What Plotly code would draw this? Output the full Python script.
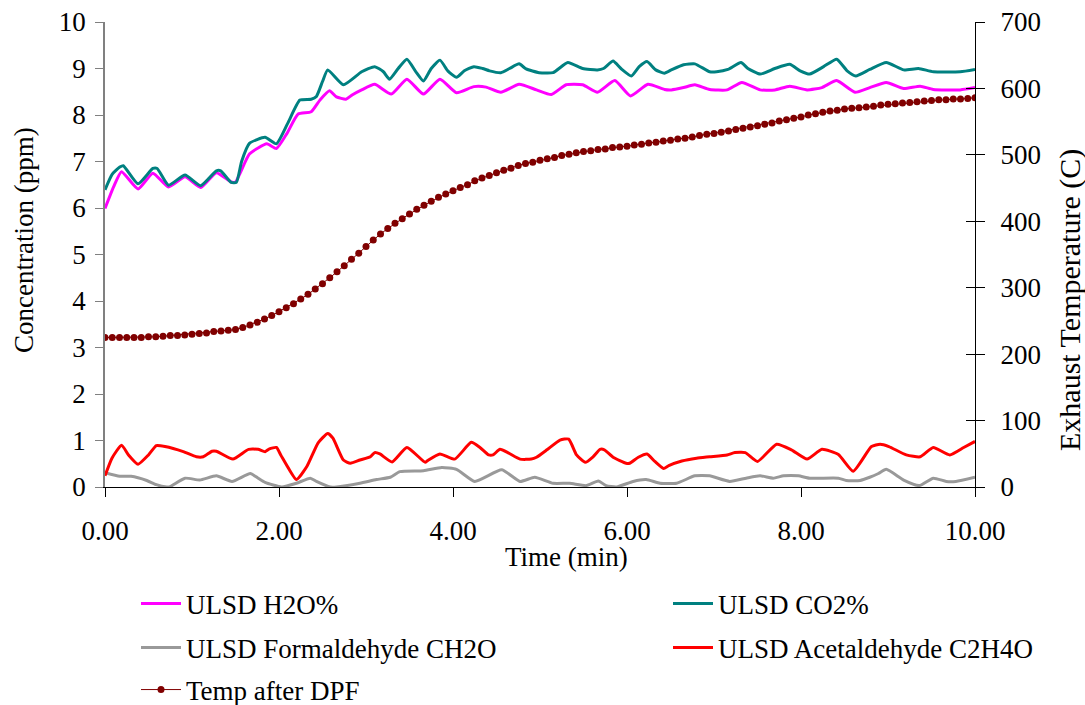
import plotly.graph_objects as go

# ---------------- data ----------------
co2_t = [0, 0.08, 0.17, 0.21, 0.38, 0.55, 0.60, 0.73, 0.92, 1.10, 1.28, 1.33, 1.45, 1.51, 1.57,
         1.66, 1.84, 1.97, 2.10, 2.24, 2.37, 2.43, 2.50, 2.56, 2.74, 2.95, 3.10, 3.20, 3.27, 3.37,
         3.47, 3.58, 3.66, 3.75, 3.85, 3.94, 4.04, 4.13, 4.24, 4.34, 4.42, 4.55, 4.65, 4.76, 4.84,
         4.99, 5.15, 5.32, 5.49, 5.66, 5.73, 5.84, 5.93, 6.05, 6.14, 6.23, 6.33, 6.43, 6.51, 6.65,
         6.78, 6.95, 7.03, 7.16, 7.31, 7.39, 7.53, 7.70, 7.87, 7.99, 8.10, 8.26, 8.41, 8.53, 8.63,
         8.79, 8.98, 9.18, 9.35, 9.52, 9.83, 10.0]
co2_v = [6.39, 6.72, 6.88, 6.91, 6.52, 6.85, 6.85, 6.49, 6.71, 6.48, 6.80, 6.80, 6.55, 6.55, 7.00,
         7.39, 7.52, 7.38, 7.82, 8.32, 8.34, 8.40, 8.72, 8.97, 8.65, 8.93, 9.04, 8.93, 8.77, 9.00,
         9.20, 8.91, 8.73, 9.00, 9.18, 8.95, 8.81, 8.95, 9.04, 9.00, 8.95, 8.91, 9.00, 9.10, 8.99,
         8.91, 8.91, 9.13, 9.00, 8.97, 9.00, 9.16, 9.00, 8.84, 9.04, 9.15, 8.97, 8.90, 8.97, 9.08,
         9.10, 8.93, 8.93, 8.98, 9.13, 9.00, 8.88, 9.00, 9.09, 8.95, 8.88, 9.04, 9.20, 8.95, 8.84,
         8.98, 9.13, 8.97, 9.00, 8.93, 8.93, 8.98]

h2o_t = [0, 0.10, 0.19, 0.38, 0.55, 0.73, 0.92, 1.10, 1.28, 1.45, 1.50, 1.66, 1.86, 1.97, 2.09,
         2.22, 2.37, 2.47, 2.58, 2.66, 2.77, 2.84, 2.95, 3.10, 3.29, 3.47, 3.66, 3.85, 4.04, 4.24,
         4.38, 4.55, 4.76, 4.96, 5.13, 5.30, 5.49, 5.66, 5.86, 6.04, 6.24, 6.43, 6.51, 6.65, 6.78,
         6.95, 7.15, 7.32, 7.53, 7.70, 7.87, 8.07, 8.24, 8.41, 8.62, 8.79, 8.98, 9.18, 9.37, 9.52,
         9.83, 10.0]
h2o_v = [5.99, 6.46, 6.78, 6.41, 6.75, 6.45, 6.67, 6.44, 6.76, 6.56, 6.56, 7.16, 7.38, 7.28, 7.60,
         8.02, 8.07, 8.32, 8.52, 8.39, 8.34, 8.43, 8.54, 8.66, 8.45, 8.77, 8.45, 8.77, 8.48, 8.61,
         8.60, 8.49, 8.66, 8.54, 8.44, 8.65, 8.65, 8.49, 8.74, 8.41, 8.66, 8.55, 8.54, 8.59, 8.65,
         8.55, 8.54, 8.70, 8.54, 8.54, 8.62, 8.54, 8.59, 8.74, 8.49, 8.59, 8.70, 8.57, 8.62, 8.55,
         8.54, 8.59]

form_t = [0.0, 0.17, 0.30, 0.48, 0.59, 0.71, 0.74, 0.92, 1.09, 1.28, 1.46, 1.67, 1.76, 1.84, 2.03,
          2.20, 2.36, 2.43, 2.59, 2.66, 2.93, 3.12, 3.28, 3.39, 3.66, 3.87, 4.04, 4.25, 4.56, 4.77,
          4.94, 5.15, 5.34, 5.53, 5.67, 5.76, 5.88, 6.07, 6.22, 6.38, 6.57, 6.78, 6.95, 7.18, 7.37,
          7.53, 7.68, 7.80, 7.97, 8.10, 8.43, 8.52, 8.68, 8.79, 8.89, 8.98, 9.18, 9.36, 9.52, 9.67,
          9.78, 10.0]
form_v = [0.31, 0.23, 0.23, 0.14, 0.05, 0.00, 0.00, 0.19, 0.15, 0.24, 0.12, 0.29, 0.19, 0.10, 0.00,
          0.08, 0.19, 0.12, 0.00, 0.00, 0.08, 0.16, 0.21, 0.33, 0.35, 0.42, 0.38, 0.12, 0.37, 0.12,
          0.21, 0.08, 0.08, 0.03, 0.13, 0.03, 0.00, 0.12, 0.16, 0.08, 0.08, 0.24, 0.24, 0.12, 0.19,
          0.24, 0.19, 0.24, 0.24, 0.19, 0.19, 0.14, 0.14, 0.21, 0.29, 0.38, 0.15, 0.03, 0.19, 0.12,
          0.12, 0.21]

acet_t = [0, 0.08, 0.19, 0.27, 0.38, 0.50, 0.59, 0.69, 0.90, 1.05, 1.13, 1.23, 1.28, 1.47, 1.65,
          1.76, 1.84, 1.89, 1.97, 2.02, 2.11, 2.20, 2.32, 2.45, 2.56, 2.62, 2.74, 2.82, 2.93, 3.05,
          3.10, 3.16, 3.30, 3.47, 3.68, 3.71, 3.85, 4.02, 4.21, 4.31, 4.41, 4.46, 4.54, 4.64, 4.77,
          4.90, 4.96, 5.08, 5.23, 5.33, 5.42, 5.52, 5.61, 5.69, 5.74, 5.84, 5.99, 6.03, 6.13, 6.23,
          6.32, 6.42, 6.48, 6.63, 6.80, 6.95, 7.15, 7.24, 7.36, 7.50, 7.72, 7.89, 8.07, 8.24, 8.43,
          8.60, 8.81, 8.91, 9.01, 9.21, 9.37, 9.52, 9.71, 9.87, 10.0]
acet_v = [0.24, 0.62, 0.90, 0.69, 0.49, 0.69, 0.89, 0.87, 0.76, 0.65, 0.65, 0.77, 0.77, 0.60, 0.81,
          0.81, 0.76, 0.82, 0.85, 0.69, 0.40, 0.16, 0.44, 0.95, 1.15, 1.05, 0.58, 0.51, 0.58, 0.65,
          0.74, 0.71, 0.54, 0.85, 0.53, 0.57, 0.71, 0.60, 0.96, 0.85, 0.69, 0.69, 0.81, 0.73, 0.60,
          0.60, 0.64, 0.80, 1.01, 1.03, 0.69, 0.53, 0.65, 0.81, 0.80, 0.64, 0.51, 0.51, 0.64, 0.71,
          0.55, 0.40, 0.46, 0.56, 0.62, 0.65, 0.69, 0.74, 0.74, 0.55, 0.92, 0.80, 0.60, 0.81, 0.70,
          0.34, 0.87, 0.92, 0.87, 0.69, 0.65, 0.85, 0.69, 0.85, 0.98]

# temperature after DPF, one reading every 5 s (121 points, 0 .. 10 min)
temp_c = [225, 225, 225, 225, 225, 225, 226, 226, 227, 228, 228, 229,
          230, 231, 232, 234, 235, 236, 237, 240, 244, 248, 253, 258,
          264, 270, 276, 283, 290, 298, 306, 315, 324, 333, 343, 352,
          362, 372, 381, 389, 397, 404, 411, 418, 424, 430, 436, 441,
          446, 451, 455, 461, 465, 469, 473, 477, 480, 484, 487, 489,
          492, 494, 496, 499, 501, 503, 505, 506, 508, 509, 511, 512,
          513, 515, 516, 518, 519, 521, 522, 524, 525, 527, 529, 531,
          532, 534, 536, 538, 540, 542, 544, 546, 548, 551, 553, 555,
          557, 560, 562, 564, 566, 567, 569, 570, 571, 572, 573, 575,
          576, 577, 578, 579, 580, 581, 582, 583, 583, 584, 584, 585,
          586]
temp_t = [i * 5 / 60 for i in range(len(temp_c))]

x_ticks = [0, 2, 4, 6, 8, 10]

# ---------------- figure ----------------
FONT = "Liberation Serif"
fig = go.Figure()

fig.add_trace(go.Scatter(x=h2o_t, y=h2o_v, name="ULSD H2O%", mode="lines",
                         line=dict(color="#FF00FF", width=3, shape="spline", smoothing=0.5),
                         legend="legend"))
fig.add_trace(go.Scatter(x=co2_t, y=co2_v, name="ULSD CO2%", mode="lines",
                         line=dict(color="#008080", width=3, shape="spline", smoothing=0.5),
                         legend="legend2"))
fig.add_trace(go.Scatter(x=form_t, y=form_v, name="ULSD Formaldehyde CH2O", mode="lines",
                         line=dict(color="#999999", width=3, shape="spline", smoothing=0.5),
                         legend="legend3"))
fig.add_trace(go.Scatter(x=acet_t, y=acet_v, name="ULSD Acetaldehyde C2H4O", mode="lines",
                         line=dict(color="#FF0000", width=3, shape="spline", smoothing=0.5),
                         legend="legend4"))
fig.add_trace(go.Scatter(x=temp_t, y=temp_c, name="Temp after DPF", mode="lines+markers",
                         yaxis="y2", line=dict(color="#800000", width=1),
                         marker=dict(color="#800000", size=7), legend="legend5"))
# helper trace that draws the inner half of the crossing ticks on the right axis
fig.add_trace(go.Scatter(x=[None], y=[None], yaxis="y3", showlegend=False, hoverinfo="skip"))


def leg(x, y):
    return dict(orientation="h", x=x, y=y, xanchor="left", yanchor="middle",
                font=dict(family=FONT, size=27, color="black"), itemwidth=40,
                bgcolor="rgba(0,0,0,0)", borderwidth=0)


c1 = (136 - 105) / 870
c2 = (668 - 105) / 870
r1, r2, r3 = (487 - 604) / 465, (487 - 648) / 465, (487 - 690) / 465

fig.update_layout(
    width=1085, height=705,
    margin=dict(l=105, r=110, t=22, b=218, autoexpand=False),
    plot_bgcolor="white", paper_bgcolor="white",
    font=dict(family=FONT, size=27, color="black"),
    xaxis=dict(range=[0, 10], tickvals=x_ticks, tickformat=".2f",
               showgrid=False, zeroline=False, showline=True, linecolor="black", linewidth=1,
               ticks="outside", ticklen=9, tickcolor="black", ticklabelstandoff=11),
    yaxis=dict(range=[0, 10], dtick=1, showgrid=False, zeroline=False,
               showline=True, linecolor="#808080", linewidth=1.5,
               ticks="outside", ticklen=8, tickcolor="#808080", ticklabelstandoff=4),
    yaxis2=dict(range=[0, 700], dtick=100, overlaying="y", side="right", anchor="x",
                showgrid=False, zeroline=False, showline=True, linecolor="black", linewidth=1,
                ticks="outside", ticklen=9, tickcolor="black", ticklabelstandoff=10),
    yaxis3=dict(range=[0, 700], dtick=100, overlaying="y", side="right", anchor="x",
                showgrid=False, zeroline=False, showline=False, showticklabels=False,
                ticks="inside", ticklen=9, tickcolor="black"),
    legend=leg(c1, r1), legend2=leg(c2, r1),
    legend3=leg(c1, r2), legend4=leg(c2, r2),
    legend5=leg(c1, r3),
    showlegend=True,
    annotations=[
        dict(text="Time (min)", xref="paper", yref="paper", x=(566 - 105) / 870,
             y=(487 - 557) / 465, xanchor="center", yanchor="middle", showarrow=False,
             font=dict(family=FONT, size=27)),
        dict(text="Concentration (ppm)", xref="paper", yref="paper", x=(24 - 105) / 870,
             y=(487 - 240) / 465, xanchor="center", yanchor="middle", showarrow=False,
             textangle=-90, font=dict(family=FONT, size=27)),
        dict(text="Exhaust Temperature (C)", xref="paper", yref="paper", x=(1070 - 105) / 870,
             y=(487 - 300) / 465, xanchor="center", yanchor="middle", showarrow=False,
             textangle=-90, font=dict(family=FONT, size=30)),
    ],
)

fig.write_html("out.html")
